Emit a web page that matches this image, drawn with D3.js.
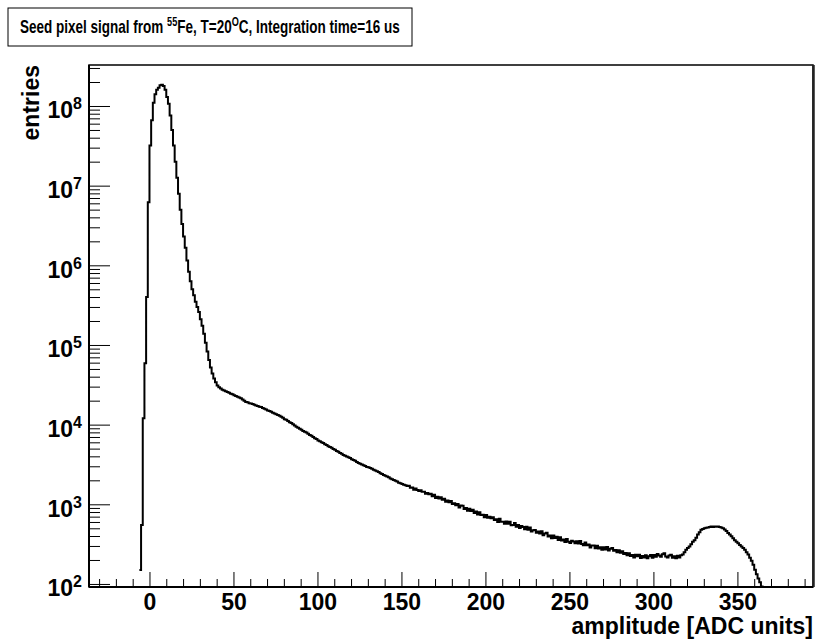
<!DOCTYPE html>
<html>
<head>
<meta charset="utf-8">
<script src="https://cdn.jsdelivr.net/npm/d3@7"></script>
<style>
  body { margin: 0; background: #fff; }
  svg { font-family: "Liberation Sans", Arial, Helvetica, sans-serif; font-weight: bold; }
  .tick line { stroke: #000; stroke-width: 1; }
  .tick text { fill: #000; }
</style>
</head>
<body>
<svg width="816" height="644"></svg>
<script>
// histogram: 1 ADC unit bins, first bin starts at -6
const firstBin = -6;
const binWidth = 1;
const entries = [
  150, 550, 12000, 59000, 4.0e5, 6.2e6, 3.2e7, 6.6e7, 1.1e8, 1.4e8,
  1.6e8, 1.7e8, 1.82e8, 1.85e8, 1.78e8, 1.6e8, 1.3e8, 1.07e8, 7.6e7, 5.0e7,
  3.2e7, 2.0e7, 1.26e7, 7.9e6, 5.0e6, 3.3e6, 2.3e6, 1.66e6, 1.15e6, 8.3e5,
  6.3e5, 5.0e5, 4.2e5, 3.5e5, 3.0e5, 2.6e5, 2.1e5, 1.74e5, 1.38e5, 1.07e5,
  8.3e4, 6.5e4, 5.2e4, 4.4e4, 3.8e4, 3.4e4, 3.1e4, 2.95e4, 2.85e4, 2.75e4,
  26900, 26300, 25700, 25100, 24500, 24000, 23400, 22900, 22400, 21900,
  21400, 20700, 20000, 19300, 19100, 18600, 18400, 18200, 17800, 17400,
  17200, 16800, 16600, 16200, 15800, 15500, 15100, 14800, 14500, 14100,
  13800, 13500, 13200, 12900, 12600, 12200, 11700, 11500, 11100, 10700,
  10500, 10100, 9770, 9440, 9120, 8910, 8610, 8320, 8130, 7940,
  7670, 7410, 7240, 7000, 6760, 6610, 6310, 6170, 6030, 5890,
  5690, 5560, 5370, 5250, 5130, 4950, 4840, 4680, 4570, 4420,
  4320, 4170, 4070, 3980, 3890, 3800, 3670, 3590, 3510, 3390,
  3310, 3240, 3160, 3090, 3020, 2950, 2920, 2850, 2790, 2720,
  2660, 2600, 2540, 2450, 2400, 2340, 2290, 2240, 2190, 2110,
  2070, 2020, 1970, 1930, 1860, 1840, 1800, 1760, 1740, 1700,
  1710, 1610, 1620, 1520, 1580, 1510, 1470, 1500, 1440, 1440,
  1360, 1390, 1340, 1360, 1260, 1320, 1200, 1240, 1180, 1230,
  1140, 1170, 1080, 1120, 1060, 1100, 1010, 1030, 970, 1010,
  915, 963, 960, 875, 900, 827, 877, 824, 855, 780,
  810, 745, 797, 735, 740, 688, 736, 679, 698, 669,
  687, 633, 651, 600, 661, 605, 603, 572, 607, 570,
  604, 545, 550, 583, 521, 548, 504, 535, 518, 487,
  521, 480, 513, 455, 473, 476, 439, 456, 429, 459,
  410, 430, 438, 395, 407, 374, 405, 377, 391, 357,
  385, 352, 362, 337, 368, 340, 326, 349, 342, 325,
  344, 321, 347, 318, 307, 332, 306, 314, 287, 305,
  304, 280, 302, 279, 288, 268, 290, 271, 292, 264,
  277, 282, 261, 266, 250, 265, 246, 258, 238, 245,
  230, 243, 224, 231, 215, 233, 222, 233, 212, 225,
  215, 230, 210, 223, 231, 213, 231, 219, 238, 227,
  220, 236, 243, 221, 215, 228, 233, 214, 223, 210,
  226, 215, 230, 234, 251, 269, 282, 295, 316, 339,
  355, 380, 417, 447, 479, 490, 501, 507, 513, 519,
  525, 520, 528, 522, 525, 519, 513, 501, 484, 462,
  437, 417, 398, 376, 355, 339, 324, 309, 295, 282,
  269, 251, 234, 214, 195, 174, 151, 132, 117, 105,
  93, 80
];

const xMajorTicks = [0, 50, 100, 150, 200, 250, 300, 350];
const xMinorTicks = d3.range(-30, 395, 10).filter(v => v % 50 !== 0);
const yMajorExponents = [2, 3, 4, 5, 6, 7, 8];

const titleParts = [
  { text: "Seed pixel signal from ", sup: false },
  { text: "55", sup: true },
  { text: "Fe, T=20", sup: false },
  { text: "O", sup: true },
  { text: "C, Integration time=16 us", sup: false }
];
const xTitle = "amplitude [ADC units]";
const yTitle = "entries";

const svg = d3.select('svg');
const frame = { left: 89, right: 813, top: 65, bottom: 587 };
const width = frame.right - frame.left;
const height = frame.bottom - frame.top;

svg.append("rect").attr("width", 816).attr("height", 644).attr("fill", "#fff");

const x = d3.scaleLinear().domain([-36, 395]).range([frame.left, frame.right]);
const yMin = 91.6;
const y = d3.scaleLog().domain([yMin, 3.27e8]).range([frame.bottom, frame.top]);

const yMinorTicks = [];
for (let e = 2; e <= 8; e++) {
    for (let k = 2; k <= 9; k++) {
        const v = k * Math.pow(10, e);
        if (v < 3.27e8) yMinorTicks.push(v);
    }
}

// frame
svg.append("rect")
    .attr("x", frame.left).attr("y", frame.top)
    .attr("width", width).attr("height", height)
    .attr("fill", "none").attr("stroke", "#000").attr("stroke-width", 1.5);
svg.append("line")
    .attr("x1", frame.right + 0.5).attr("x2", frame.right + 0.5)
    .attr("y1", frame.top).attr("y2", frame.bottom)
    .attr("stroke", "#222").attr("stroke-width", 2.5);

// histogram
svg.append("clipPath").attr("id", "frame-clip")
    .append("rect")
    .attr("x", frame.left).attr("y", frame.top)
    .attr("width", width).attr("height", height);

const points = entries.map((d, i) => [firstBin + i * binWidth, d]);
points.push([firstBin + entries.length * binWidth, entries[entries.length - 1]]);

const step = d3.line()
    .curve(d3.curveStepAfter)
    .x(d => x(d[0]))
    .y(d => y(Math.max(d[1], yMin)));

svg.append("path")
    .datum(points)
    .attr("clip-path", "url(#frame-clip)")
    .attr("fill", "none")
    .attr("stroke", "#000")
    .attr("stroke-width", 2)
    .attr("d", step);

// x axis
function cleanAxis(g) {
    g.select(".domain").remove();
    g.attr("font-family", null).attr("font-size", null);
}

svg.append("g")
    .attr("transform", `translate(0,${frame.bottom})`)
    .call(d3.axisBottom(x).tickValues(xMinorTicks).tickSize(-8).tickFormat(""))
    .call(cleanAxis);

svg.append("g")
    .attr("transform", `translate(0,${frame.bottom})`)
    .call(d3.axisBottom(x).tickValues(xMajorTicks).tickSize(-15).tickPadding(7))
    .call(cleanAxis)
    .selectAll(".tick text")
    .style("font-size", "23px");

// y axis
svg.append("g")
    .attr("transform", `translate(${frame.left},0)`)
    .call(d3.axisLeft(y).tickValues(yMinorTicks).tickSize(-11).tickFormat(""))
    .call(cleanAxis);

const yAxisMajor = svg.append("g")
    .attr("transform", `translate(${frame.left},0)`)
    .call(d3.axisLeft(y).tickValues(yMajorExponents.map(e => Math.pow(10, e))).tickSize(-21))
    .call(cleanAxis);

yAxisMajor.selectAll(".tick text").each(function (d) {
    const t = d3.select(this);
    const e = Math.round(Math.log10(d));
    t.text(null)
        .attr("x", -7)
        .attr("dy", null)
        .attr("y", 12)
        .attr("text-anchor", "end")
        .style("font-size", "23px");
    t.append("tspan").text("10");
    t.append("tspan").attr("dy", -9).style("font-size", "16px").text(e);
});

// axis lines (left and bottom heavier)
svg.append("line")
    .attr("x1", frame.left).attr("x2", frame.left)
    .attr("y1", frame.top).attr("y2", frame.bottom)
    .attr("stroke", "#000").attr("stroke-width", 2);
svg.append("line")
    .attr("x1", frame.left).attr("x2", frame.right)
    .attr("y1", frame.bottom).attr("y2", frame.bottom)
    .attr("stroke", "#000").attr("stroke-width", 2);

// axis titles
svg.append("text")
    .attr("x", frame.right).attr("y", 634)
    .attr("text-anchor", "end")
    .style("font-size", "23px")
    .text(xTitle);

svg.append("text")
    .attr("transform", `translate(39,${frame.top}) rotate(-90)`)
    .attr("text-anchor", "end")
    .style("font-size", "23px")
    .text(yTitle);

// title box
svg.append("rect")
    .attr("x", 8).attr("y", 8)
    .attr("width", 404).attr("height", 38)
    .attr("fill", "#fff").attr("stroke", "#000").attr("stroke-width", 1);

const title = svg.append("text")
    .style("font-size", "18.5px");

titleParts.forEach((p, i) => {
    title.append("tspan")
        .attr("dy", p.sup ? -7.5 : (i ? 7.5 : 0))
        .style("font-size", p.sup ? "12.5px" : "18.5px")
        .text(p.text);
});

// squeeze the title into the box like the condensed original
const titleWidth = title.node().getComputedTextLength();
title.attr("transform", `translate(20,33) scale(${380 / titleWidth},1)`);
</script>
</body>
</html>
